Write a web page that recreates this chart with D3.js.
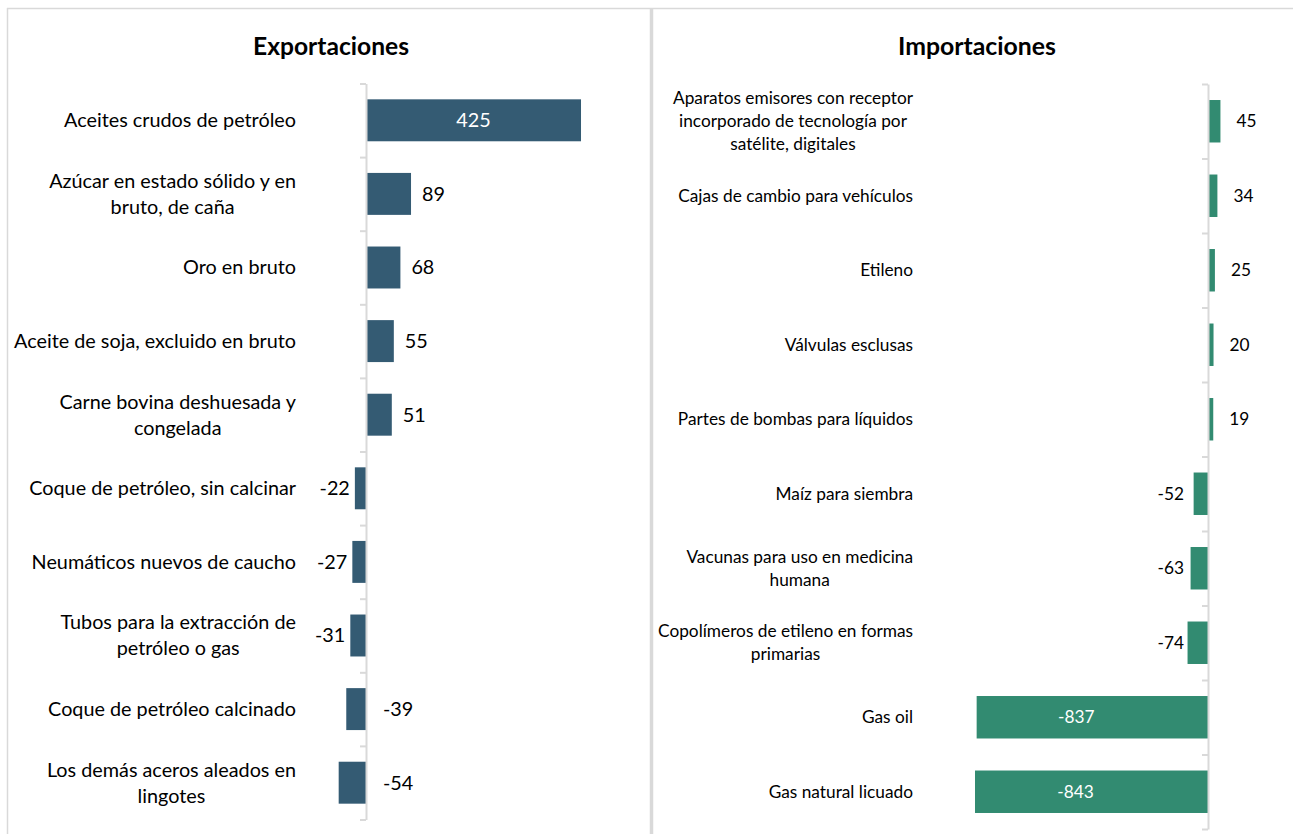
<!DOCTYPE html>
<html>
<head>
<meta charset="utf-8">
<script src="https://cdn.jsdelivr.net/npm/d3@7"></script>
<style>
  html, body { margin: 0; padding: 0; background: #fff; }
  svg { display: block; }
</style>
</head>
<body>
<svg id="chart" width="1293" height="834"></svg>
<script>
// ---- Data ----
const exportCategories = [
  "Aceites crudos de petróleo",
  "Azúcar en estado sólido y en bruto, de caña",
  "Oro en bruto",
  "Aceite de soja, excluido en bruto",
  "Carne bovina deshuesada y congelada",
  "Coque de petróleo, sin calcinar",
  "Neumáticos nuevos de caucho",
  "Tubos para la extracción de petróleo o gas",
  "Coque de petróleo calcinado",
  "Los demás aceros aleados en lingotes"
];
const exportValues = [425, 89, 68, 55, 51, -22, -27, -31, -39, -54];

const importCategories = [
  "Aparatos emisores con receptor incorporado de tecnología por satélite, digitales",
  "Cajas de cambio para vehículos",
  "Etileno",
  "Válvulas esclusas",
  "Partes de bombas para líquidos",
  "Maíz para siembra",
  "Vacunas para uso en medicina humana",
  "Copolímeros de etileno en formas primarias",
  "Gas oil",
  "Gas natural licuado"
];
const importValues = [45, 34, 25, 20, 19, -52, -63, -74, -837, -843];

const panelTitles = ["Exportaciones", "Importaciones"];

// ---- Drawing ----
const svg = d3.select("#chart");
const FONT = "Lato, 'Noto Sans', sans-serif";
const GRID = "#d9d9d9";

// measure helper
const meas = svg.append("text").attr("font-family", FONT).attr("x", -1000).attr("y", -1000);
function textWidth(str, size, weight) {
  meas.attr("font-size", size).attr("font-weight", weight || "normal").text(str);
  return meas.node().getComputedTextLength();
}
function fitSize(str, target, weight) {
  return 100 * target / textWidth(str, 100, weight);
}

// frame lines
svg.append("line").attr("x1", 7).attr("x2", 1293).attr("y1", 8.5).attr("y2", 8.5)
  .attr("stroke", GRID).attr("stroke-width", 1.5);
svg.append("line").attr("x1", 7.5).attr("x2", 7.5).attr("y1", 8).attr("y2", 834)
  .attr("stroke", GRID).attr("stroke-width", 1.5);
svg.append("line").attr("x1", 651.5).attr("x2", 651.5).attr("y1", 8).attr("y2", 834)
  .attr("stroke", GRID).attr("stroke-width", 3.5);

function wrap(str, maxW, size) {
  const words = str.split(" ");
  const lines = [];
  let cur = "";
  words.forEach(w => {
    const t = cur ? cur + " " + w : w;
    if (cur && textWidth(t, size) > maxW) { lines.push(cur); cur = w; }
    else cur = t;
  });
  if (cur) lines.push(cur);
  return lines;
}

function drawPanel(cfg) {
  const g = svg.append("g");
  const n = cfg.categories.length;

  const x = d3.scaleLinear().domain(cfg.xDomain).range(cfg.xRange);
  const y = d3.scaleBand().domain(cfg.categories).range(cfg.yRange)
    .paddingInner(0.43).paddingOuter(0.215);
  const yIdx = d3.scaleLinear().domain([0, n]).range(cfg.yRange);

  // title
  const tSize = fitSize(cfg.title, cfg.titleWidth, "bold");
  g.append("text").attr("x", cfg.titleX).attr("y", cfg.titleY)
    .attr("text-anchor", "middle").attr("font-family", FONT)
    .attr("font-weight", "bold").attr("font-size", tSize).attr("fill", "#000")
    .text(cfg.title);

  // bars
  g.selectAll("rect.bar").data(cfg.values).join("rect").attr("class", "bar")
    .attr("x", d => x(Math.min(0, d)))
    .attr("width", d => Math.abs(x(d) - x(0)))
    .attr("y", (d, i) => y(cfg.categories[i]))
    .attr("height", y.bandwidth())
    .attr("fill", cfg.color);

  // axis at zero with boundary ticks
  const axis = d3.axisLeft(yIdx).tickValues(d3.range(n + 1)).tickFormat("")
    .tickSizeInner(6).tickSizeOuter(0);
  const ag = g.append("g").attr("transform", `translate(${x(0)},0)`).call(axis);
  ag.select(".domain").attr("stroke", GRID).attr("stroke-width", 2);
  ag.selectAll(".tick line").attr("stroke", GRID).attr("stroke-width", 2);

  // category labels
  const cSize = fitSize(cfg.fitText, cfg.fitWidth);
  cfg.categories.forEach((c, i) => {
    const lines = wrap(c, cfg.wrapWidth, cSize);
    const blockW = d3.max(lines, l => textWidth(l, cSize));
    const cx = cfg.labelRight - blockW / 2;
    const cy = y(c) + y.bandwidth() / 2;
    const lh = cfg.lineHeight;
    const t = g.append("text").attr("font-family", FONT).attr("font-size", cSize)
      .attr("fill", "#000").attr("text-anchor", "middle");
    lines.forEach((l, k) => {
      t.append("tspan").attr("x", cx)
        .attr("y", cy + (k - (lines.length - 1) / 2) * lh)
        .attr("dy", "0.35em").text(l);
    });
  });

  // value labels
  cfg.values.forEach((v, i) => {
    const cy = y(cfg.categories[i]) + y.bandwidth() / 2;
    const p = cfg.placeLabel(v, x);
    g.append("text").attr("x", p.x).attr("y", cy).attr("dy", "0.35em")
      .attr("text-anchor", p.anchor).attr("font-family", FONT)
      .attr("font-size", cSize).attr("fill", p.fill).text(v);
  });
}

drawPanel({
  title: panelTitles[0], titleX: 331, titleY: 55, titleWidth: 156,
  categories: exportCategories, values: exportValues, color: "#345B73",
  xDomain: [-60, 450], xRange: [366 - 60 * 0.5059, 366 + 450 * 0.5059],
  yRange: [83.5, 819.5],
  fitText: "Aceites crudos de petróleo", fitWidth: 232,
  wrapWidth: 286, labelRight: 296, lineHeight: 26,
  placeLabel: (v, x) => {
    if (v > 200) return { x: (x(0) + x(v)) / 2, anchor: "middle", fill: "#fff" };
    if (v >= 0) return { x: x(v) + 11, anchor: "start", fill: "#000" };
    if (v > -35) return { x: x(v) - 5, anchor: "end", fill: "#000" };
    return { x: x(0) + 17, anchor: "start", fill: "#000" };
  }
});

drawPanel({
  title: panelTitles[1], titleX: 977, titleY: 55, titleWidth: 158,
  categories: importCategories, values: importValues, color: "#328B71",
  xDomain: [-900, 100], xRange: [1208 - 900 * 0.2764, 1208 + 100 * 0.2764],
  yRange: [84, 829],
  fitText: "Cajas de cambio para vehículos", fitWidth: 235,
  wrapWidth: 268, labelRight: 913, lineHeight: 23,
  placeLabel: (v, x) => {
    if (v < -500) return { x: (x(0) + x(v)) / 2 - 16, anchor: "middle", fill: "#fff" };
    if (v >= 0) return { x: x(v) + 16, anchor: "start", fill: "#000" };
    return { x: x(0) - 24, anchor: "end", fill: "#000" };
  }
});

meas.remove();
</script>
</body>
</html>
